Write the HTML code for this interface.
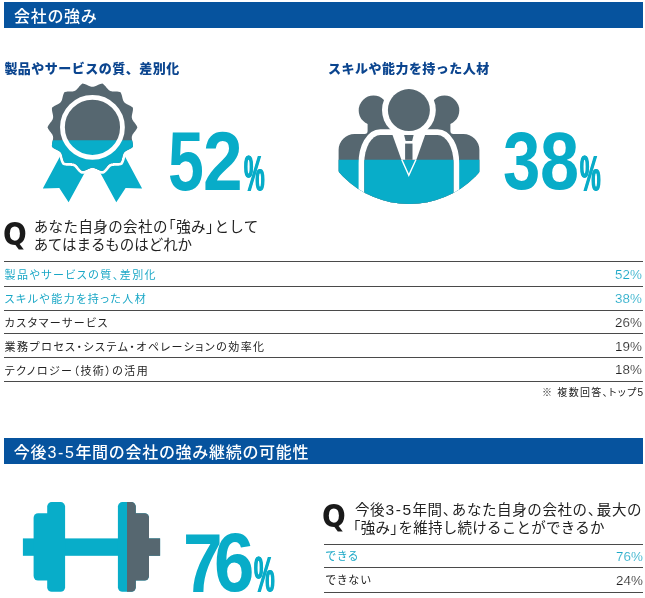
<!DOCTYPE html>
<html lang="ja">
<head>
<meta charset="utf-8">
<title>会社の強み</title>
<style>
html,body{margin:0;padding:0;background:#fff;}
body{width:645px;height:598px;position:relative;overflow:hidden;font-family:"Liberation Sans","Noto Sans CJK JP",sans-serif;color:#222;}
.abs{position:absolute;white-space:nowrap;}
.bar{position:absolute;left:4.2px;width:638.9px;background:#06539e;color:#fff;font-size:16px;line-height:26px;}
.bar span{position:absolute;left:9.8px;top:1.7px;white-space:nowrap;letter-spacing:0.7px;font-weight:500;}
.sub{position:absolute;white-space:nowrap;font-weight:900;font-size:13px;color:#0b458f;letter-spacing:0.48px;line-height:16px;}
.q{position:absolute;font-family:"DejaVu Sans Condensed","DejaVu Sans",sans-serif;font-weight:700;font-size:32px;line-height:32px;color:#1a1a1a;transform-origin:0 0;transform:scaleX(0.97);}
.qt{position:absolute;white-space:nowrap;font-size:14.5px;line-height:17.4px;color:#222;letter-spacing:0.4px;font-weight:400;}
.qt i{font-style:normal;}
.qt .l{margin-left:-6.5px;}
.qt .r{margin-right:-6.5px;}
.hr{position:absolute;height:1.2px;background:#4a4a4a;}
.row{position:absolute;left:4.6px;right:3.5px;height:24px;line-height:24px;font-size:11px;color:#222;font-feature-settings:"palt";letter-spacing:1.45px;font-weight:400;}
.row b{position:absolute;right:-0.4px;top:-0.4px;font-weight:400;font-size:13.4px;letter-spacing:0;-webkit-text-stroke:0.18px #fff;font-family:"Liberation Sans",sans-serif;}
.row.c{color:#1aa7c6;}
.n{position:absolute;white-space:nowrap;font-family:"Liberation Sans",sans-serif;font-weight:700;color:#08acc8;transform-origin:0 0;}
.p{text-shadow:0.8px 0 0 #08acc8,-0.8px 0 0 #08acc8;}
</style>
</head>
<body>
<div class="bar" style="top:2.3px;height:25.5px;"><span>会社の強み</span></div>
<div class="sub" style="left:4.4px;top:61px;">製品やサービスの質、差別化</div>
<div class="sub" style="left:328px;top:61px;">スキルや能力を持った人材</div>

<!--ICONS--><svg class="abs" style="left:0;top:0" width="645" height="598" viewBox="0 0 645 598">
<defs>
<clipPath id="cb"><rect x="0" y="140.3" width="200" height="80"/></clipPath>
<clipPath id="cp"><circle cx="409.2" cy="110.3" r="93.7"/></clipPath>
<clipPath id="cpl"><rect x="320" y="159.8" width="180" height="60"/></clipPath>
<clipPath id="cpu"><rect x="320" y="80" width="180" height="79.8"/></clipPath>
<clipPath id="cd"><rect x="127.1" y="495" width="60" height="103"/></clipPath>
<path id="bd" d="M92.45 86.80L92.75 86.79L93.06 86.77L93.36 86.73L93.67 86.68L93.97 86.61L94.28 86.52L94.59 86.43L94.91 86.32L95.22 86.20L95.54 86.07L95.86 85.93L96.19 85.79L96.51 85.64L96.85 85.48L97.18 85.32L97.52 85.16L97.86 85.00L98.20 84.84L98.55 84.68L98.90 84.53L99.25 84.39L99.60 84.25L99.95 84.12L100.31 84.00L100.66 83.89L101.02 83.79L101.38 83.70L101.73 83.63L102.09 83.57L102.44 83.53L102.74 83.72L103.03 83.93L103.32 84.15L103.61 84.38L103.89 84.62L104.16 84.88L104.43 85.14L104.69 85.41L104.95 85.69L105.20 85.97L105.45 86.26L105.69 86.55L105.93 86.84L106.17 87.14L106.40 87.43L106.63 87.71L106.87 88.00L107.10 88.28L107.32 88.55L107.55 88.81L107.79 89.07L108.02 89.31L108.25 89.55L108.49 89.77L108.73 89.98L108.98 90.17L109.23 90.35L109.49 90.52L109.75 90.67L110.02 90.81L110.30 90.94L110.58 91.05L110.87 91.14L111.17 91.23L111.48 91.30L111.79 91.36L112.11 91.40L112.44 91.44L112.78 91.47L113.12 91.49L113.47 91.51L113.83 91.52L114.19 91.53L114.56 91.53L114.93 91.53L115.30 91.53L115.68 91.54L116.05 91.54L116.43 91.55L116.81 91.57L117.19 91.59L117.57 91.61L117.95 91.65L118.32 91.70L118.69 91.75L119.05 91.82L119.41 91.89L119.76 91.98L120.11 92.08L120.44 92.20L120.63 92.50L120.81 92.81L120.97 93.14L121.13 93.47L121.27 93.81L121.41 94.16L121.53 94.51L121.65 94.87L121.76 95.23L121.87 95.60L121.97 95.96L122.06 96.33L122.15 96.70L122.24 97.06L122.32 97.43L122.41 97.79L122.49 98.15L122.58 98.50L122.67 98.84L122.76 99.18L122.86 99.51L122.96 99.83L123.07 100.14L123.19 100.44L123.32 100.74L123.45 101.02L123.60 101.29L123.76 101.55L123.93 101.81L124.11 102.05L124.31 102.28L124.52 102.50L124.74 102.72L124.97 102.92L125.22 103.12L125.47 103.31L125.74 103.49L126.02 103.67L126.31 103.84L126.61 104.01L126.92 104.18L127.24 104.34L127.56 104.50L127.89 104.66L128.22 104.82L128.56 104.99L128.89 105.15L129.23 105.32L129.57 105.50L129.91 105.67L130.24 105.86L130.57 106.05L130.89 106.24L131.21 106.45L131.51 106.65L131.81 106.87L132.10 107.10L132.38 107.33L132.65 107.57L132.90 107.82L132.94 108.17L132.96 108.53L132.97 108.90L132.96 109.26L132.95 109.63L132.92 110.00L132.88 110.38L132.83 110.75L132.77 111.12L132.71 111.50L132.64 111.87L132.56 112.24L132.49 112.61L132.41 112.98L132.32 113.35L132.24 113.71L132.16 114.07L132.09 114.42L132.02 114.77L131.96 115.11L131.90 115.45L131.86 115.79L131.82 116.12L131.80 116.44L131.78 116.76L131.79 117.07L131.80 117.38L131.83 117.69L131.87 117.99L131.93 118.29L132.01 118.58L132.10 118.87L132.21 119.16L132.33 119.45L132.46 119.73L132.61 120.01L132.77 120.29L132.95 120.57L133.14 120.86L133.33 121.14L133.54 121.42L133.75 121.71L133.97 121.99L134.20 122.28L134.43 122.57L134.66 122.86L134.89 123.16L135.12 123.46L135.35 123.76L135.58 124.07L135.80 124.38L136.01 124.69L136.22 125.01L136.42 125.33L136.60 125.65L136.78 125.97L136.94 126.30L137.09 126.63L137.23 126.97L137.35 127.30L137.23 127.63L137.09 127.97L136.94 128.30L136.78 128.63L136.60 128.95L136.42 129.27L136.22 129.59L136.01 129.91L135.80 130.22L135.58 130.53L135.35 130.84L135.12 131.14L134.89 131.44L134.66 131.74L134.43 132.03L134.20 132.32L133.97 132.61L133.75 132.89L133.54 133.18L133.33 133.46L133.14 133.74L132.95 134.03L132.77 134.31L132.61 134.59L132.46 134.87L132.33 135.15L132.21 135.44L132.10 135.73L132.01 136.02L131.93 136.31L131.87 136.61L131.83 136.91L131.80 137.22L131.79 137.53L131.78 137.84L131.80 138.16L131.82 138.48L131.86 138.81L131.90 139.15L131.96 139.49L132.02 139.83L132.09 140.18L132.16 140.53L132.24 140.89L132.32 141.25L132.41 141.62L132.49 141.99L132.56 142.36L132.64 142.73L132.71 143.10L132.77 143.48L132.83 143.85L132.88 144.22L132.92 144.60L132.95 144.97L132.96 145.34L132.97 145.70L132.96 146.07L132.94 146.43L132.90 146.78L132.65 147.03L132.38 147.27L132.10 147.50L131.81 147.73L131.51 147.95L131.21 148.15L130.89 148.36L130.57 148.55L130.24 148.74L129.91 148.92L129.57 149.10L129.23 149.28L128.89 149.45L128.56 149.61L128.22 149.78L127.89 149.94L127.56 150.10L127.24 150.26L126.92 150.42L126.61 150.59L126.31 150.76L126.02 150.93L125.74 151.11L125.47 151.29L125.22 151.48L124.97 151.68L124.74 151.88L124.52 152.10L124.31 152.32L124.11 152.55L123.93 152.79L123.76 153.05L123.60 153.31L123.45 153.58L123.32 153.86L123.19 154.16L123.07 154.46L122.96 154.77L122.86 155.09L122.76 155.42L122.67 155.76L122.58 156.10L122.49 156.45L122.41 156.81L122.32 157.17L122.24 157.54L122.15 157.90L122.06 158.27L121.97 158.64L121.87 159.00L121.76 159.37L121.65 159.73L121.53 160.09L121.41 160.44L121.27 160.79L121.13 161.13L120.97 161.46L120.81 161.79L120.63 162.10L120.44 162.40L120.11 162.52L119.76 162.62L119.41 162.71L119.05 162.78L118.69 162.85L118.32 162.90L117.95 162.95L117.57 162.99L117.19 163.01L116.81 163.03L116.43 163.05L116.05 163.06L115.68 163.06L115.30 163.07L114.93 163.07L114.56 163.07L114.19 163.07L113.83 163.08L113.47 163.09L113.12 163.11L112.78 163.13L112.44 163.16L112.11 163.20L111.79 163.24L111.48 163.30L111.17 163.37L110.87 163.46L110.58 163.55L110.30 163.66L110.02 163.79L109.75 163.93L109.49 164.08L109.23 164.25L108.98 164.43L108.73 164.62L108.49 164.83L108.25 165.05L108.02 165.29L107.79 165.53L107.55 165.79L107.32 166.05L107.10 166.32L106.87 166.60L106.63 166.89L106.40 167.17L106.17 167.46L105.93 167.76L105.69 168.05L105.45 168.34L105.20 168.63L104.95 168.91L104.69 169.19L104.43 169.46L104.16 169.72L103.89 169.98L103.61 170.22L103.32 170.45L103.03 170.67L102.74 170.88L102.44 171.07L102.09 171.03L101.73 170.97L101.38 170.90L101.02 170.81L100.66 170.71L100.31 170.60L99.95 170.48L99.60 170.35L99.25 170.21L98.90 170.07L98.55 169.92L98.20 169.76L97.86 169.60L97.52 169.44L97.18 169.28L96.85 169.12L96.51 168.96L96.19 168.81L95.86 168.67L95.54 168.53L95.22 168.40L94.91 168.28L94.59 168.17L94.28 168.08L93.97 167.99L93.67 167.92L93.36 167.87L93.06 167.83L92.75 167.81L92.45 167.80L92.15 167.81L91.84 167.83L91.54 167.87L91.23 167.92L90.93 167.99L90.62 168.08L90.31 168.17L89.99 168.28L89.68 168.40L89.36 168.53L89.04 168.67L88.71 168.81L88.39 168.96L88.05 169.12L87.72 169.28L87.38 169.44L87.04 169.60L86.70 169.76L86.35 169.92L86.00 170.07L85.65 170.21L85.30 170.35L84.95 170.48L84.59 170.60L84.24 170.71L83.88 170.81L83.52 170.90L83.17 170.97L82.81 171.03L82.46 171.07L82.16 170.88L81.87 170.67L81.58 170.45L81.29 170.22L81.01 169.98L80.74 169.72L80.47 169.46L80.21 169.19L79.95 168.91L79.70 168.63L79.45 168.34L79.21 168.05L78.97 167.76L78.73 167.46L78.50 167.17L78.27 166.89L78.03 166.60L77.80 166.32L77.58 166.05L77.35 165.79L77.11 165.53L76.88 165.29L76.65 165.05L76.41 164.83L76.17 164.62L75.92 164.43L75.67 164.25L75.41 164.08L75.15 163.93L74.88 163.79L74.60 163.66L74.32 163.55L74.03 163.46L73.73 163.37L73.42 163.30L73.11 163.24L72.79 163.20L72.46 163.16L72.12 163.13L71.78 163.11L71.43 163.09L71.07 163.08L70.71 163.07L70.34 163.07L69.97 163.07L69.60 163.07L69.22 163.06L68.85 163.06L68.47 163.05L68.09 163.03L67.71 163.01L67.33 162.99L66.95 162.95L66.58 162.90L66.21 162.85L65.85 162.78L65.49 162.71L65.14 162.62L64.79 162.52L64.46 162.40L64.27 162.10L64.09 161.79L63.93 161.46L63.77 161.13L63.63 160.79L63.49 160.44L63.37 160.09L63.25 159.73L63.14 159.37L63.03 159.00L62.93 158.64L62.84 158.27L62.75 157.90L62.66 157.54L62.58 157.17L62.49 156.81L62.41 156.45L62.32 156.10L62.23 155.76L62.14 155.42L62.04 155.09L61.94 154.77L61.83 154.46L61.71 154.16L61.58 153.86L61.45 153.58L61.30 153.31L61.14 153.05L60.97 152.79L60.79 152.55L60.59 152.32L60.38 152.10L60.16 151.88L59.93 151.68L59.68 151.48L59.43 151.29L59.16 151.11L58.88 150.93L58.59 150.76L58.29 150.59L57.98 150.42L57.66 150.26L57.34 150.10L57.01 149.94L56.68 149.78L56.34 149.61L56.01 149.45L55.67 149.28L55.33 149.10L54.99 148.93L54.66 148.74L54.33 148.55L54.01 148.36L53.69 148.15L53.39 147.95L53.09 147.73L52.80 147.50L52.52 147.27L52.25 147.03L52.00 146.78L51.96 146.43L51.94 146.07L51.93 145.70L51.94 145.34L51.95 144.97L51.98 144.60L52.02 144.22L52.07 143.85L52.13 143.48L52.19 143.10L52.26 142.73L52.34 142.36L52.41 141.99L52.49 141.62L52.58 141.25L52.66 140.89L52.74 140.53L52.81 140.18L52.88 139.83L52.94 139.49L53.00 139.15L53.04 138.81L53.08 138.48L53.10 138.16L53.12 137.84L53.11 137.53L53.10 137.22L53.07 136.91L53.03 136.61L52.97 136.31L52.89 136.02L52.80 135.73L52.69 135.44L52.57 135.15L52.44 134.87L52.29 134.59L52.13 134.31L51.95 134.03L51.76 133.74L51.57 133.46L51.36 133.18L51.15 132.89L50.93 132.61L50.70 132.32L50.47 132.03L50.24 131.74L50.01 131.44L49.78 131.14L49.55 130.84L49.32 130.53L49.10 130.22L48.89 129.91L48.68 129.59L48.48 129.27L48.30 128.95L48.12 128.63L47.96 128.30L47.81 127.97L47.67 127.63L47.55 127.30L47.67 126.97L47.81 126.63L47.96 126.30L48.12 125.97L48.30 125.65L48.48 125.33L48.68 125.01L48.89 124.69L49.10 124.38L49.32 124.07L49.55 123.76L49.78 123.46L50.01 123.16L50.24 122.86L50.47 122.57L50.70 122.28L50.93 121.99L51.15 121.71L51.36 121.42L51.57 121.14L51.76 120.86L51.95 120.57L52.13 120.29L52.29 120.01L52.44 119.73L52.57 119.45L52.69 119.16L52.80 118.87L52.89 118.58L52.97 118.29L53.03 117.99L53.07 117.69L53.10 117.38L53.11 117.07L53.12 116.76L53.10 116.44L53.08 116.12L53.04 115.79L53.00 115.45L52.94 115.11L52.88 114.77L52.81 114.42L52.74 114.07L52.66 113.71L52.58 113.35L52.49 112.98L52.41 112.61L52.34 112.24L52.26 111.87L52.19 111.50L52.13 111.12L52.07 110.75L52.02 110.38L51.98 110.00L51.95 109.63L51.94 109.26L51.93 108.90L51.94 108.53L51.96 108.17L52.00 107.82L52.25 107.57L52.52 107.33L52.80 107.10L53.09 106.87L53.39 106.65L53.69 106.45L54.01 106.24L54.33 106.05L54.66 105.86L54.99 105.68L55.33 105.50L55.67 105.32L56.01 105.15L56.34 104.99L56.68 104.82L57.01 104.66L57.34 104.50L57.66 104.34L57.98 104.18L58.29 104.01L58.59 103.84L58.88 103.67L59.16 103.49L59.43 103.31L59.68 103.12L59.93 102.92L60.16 102.72L60.38 102.50L60.59 102.28L60.79 102.05L60.97 101.81L61.14 101.55L61.30 101.29L61.45 101.02L61.58 100.74L61.71 100.44L61.83 100.14L61.94 99.83L62.04 99.51L62.14 99.18L62.23 98.84L62.32 98.50L62.41 98.15L62.49 97.79L62.58 97.43L62.66 97.06L62.75 96.70L62.84 96.33L62.93 95.96L63.03 95.60L63.14 95.23L63.25 94.87L63.37 94.51L63.49 94.16L63.63 93.81L63.77 93.47L63.93 93.14L64.09 92.81L64.27 92.50L64.46 92.20L64.79 92.08L65.14 91.98L65.49 91.89L65.85 91.82L66.21 91.75L66.58 91.70L66.95 91.65L67.33 91.61L67.71 91.59L68.09 91.57L68.47 91.55L68.85 91.54L69.22 91.54L69.60 91.53L69.97 91.53L70.34 91.53L70.71 91.53L71.07 91.52L71.43 91.51L71.78 91.49L72.12 91.47L72.46 91.44L72.79 91.40L73.11 91.36L73.42 91.30L73.73 91.23L74.03 91.14L74.32 91.05L74.60 90.94L74.88 90.81L75.15 90.67L75.41 90.52L75.67 90.35L75.92 90.17L76.17 89.98L76.41 89.77L76.65 89.55L76.88 89.31L77.11 89.07L77.35 88.81L77.58 88.55L77.80 88.28L78.03 88.00L78.27 87.71L78.50 87.43L78.73 87.14L78.97 86.84L79.21 86.55L79.45 86.26L79.70 85.97L79.95 85.69L80.21 85.41L80.47 85.14L80.74 84.88L81.01 84.62L81.29 84.38L81.58 84.15L81.87 83.93L82.16 83.72L82.46 83.53L82.81 83.57L83.17 83.63L83.52 83.70L83.88 83.79L84.24 83.89L84.59 84.00L84.95 84.12L85.30 84.25L85.65 84.39L86.00 84.53L86.35 84.68L86.70 84.84L87.04 85.00L87.38 85.16L87.72 85.32L88.05 85.48L88.39 85.64L88.71 85.79L89.04 85.93L89.36 86.07L89.68 86.20L89.99 86.32L90.31 86.43L90.62 86.52L90.93 86.61L91.23 86.68L91.54 86.73L91.84 86.77L92.15 86.79Z"/>
<g id="side">
<circle cx="373.5" cy="110.4" r="14.8"/>
<circle cx="444.5" cy="110.4" r="14.8"/>
<path d="M338.6 210V150a16 16 0 0 1 16 -16H364.6a3 3 0 0 0 3 -3V118H450.4V131a3 3 0 0 0 3 3H463.4a16 16 0 0 1 16 16V210Z"/>
</g>
<path id="cbody" d="M364.3 210V163a16 28 0 0 1 16 -28H437.5a16 28 0 0 1 16 28V210Z"/>
<g id="dumb">
<rect x="22.9" y="538.4" width="137.2" height="17.4"/>
<rect x="47.2" y="502.1" width="17.9" height="89.6" rx="4.5"/>
<path d="M50 513.3H38.1a4.5 4.5 0 0 0 -4.5 4.5V576.1a4.5 4.5 0 0 0 4.5 4.5H50Z"/>
<rect x="117.9" y="502.1" width="17.9" height="89.6" rx="4.5"/>
<path d="M133 513.3H144.5a4.5 4.5 0 0 1 4.5 4.5V576.1a4.5 4.5 0 0 1 -4.5 4.5H133Z"/>
</g>
</defs>
<!-- badge -->
<g fill="#08adc9">
<path d="M68.8 140L42.8 188.6L59.3 187.9L68.6 202.2L102.5 140Z"/>
<path d="M116.1 140L142.1 188.6L125.6 187.9L116.3 202.2L82.4 140Z"/>
</g>
<use href="#bd" fill="#566770" stroke="#fff" stroke-width="5.6" stroke-linejoin="round"/>
<use href="#bd" fill="#566770"/>
<use href="#bd" fill="#08adc9" clip-path="url(#cb)"/>
<circle cx="92.45" cy="127.3" r="30" fill="none" stroke="#fff" stroke-width="4.8"/>
<!-- people -->
<g clip-path="url(#cp)">
<use href="#side" fill="#566770"/>
<use href="#side" fill="#08adc9" clip-path="url(#cpl)"/>
<circle cx="408.9" cy="110.1" r="26.9" fill="#fff"/>
<use href="#cbody" fill="#fff" stroke="#fff" stroke-width="11.4"/>
<circle cx="408.9" cy="110.1" r="21" fill="#566770"/>
<use href="#cbody" fill="#566770"/>
<use href="#cbody" fill="#08adc9" clip-path="url(#cpl)"/>
<path d="M391.8 133L401.4 159.8H416.4L425.8 133Z" fill="#fff"/>
<path d="M404.1 135H413.6L412.1 141H405.6Z" fill="#566770"/>
<rect x="405.1" y="143.6" width="7.4" height="16.2" fill="#566770"/>
<path d="M401.8 159.8L408.8 175.2L415.9 159.8" fill="none" stroke="#fff" stroke-width="1.4"/>
</g>
<!-- dumbbell -->
<use href="#dumb" fill="#08adc9"/>
<use href="#dumb" fill="#566770" clip-path="url(#cd)"/>
</svg><!--/ICONS-->

<!--NUMS--><div class="n" style="left:167.60px;top:120.14px;font-size:83.0px;line-height:83.0px;transform:scaleX(0.776);">5</div>
<div class="n" style="left:203.21px;top:120.14px;font-size:83.0px;line-height:83.0px;transform:scaleX(0.857);">2</div>
<div class="n p" style="left:243.60px;top:148.58px;font-size:49.4px;line-height:49.4px;transform:scaleX(0.470);">%</div>
<div class="n" style="left:502.56px;top:120.24px;font-size:82.0px;line-height:82.0px;transform:scaleX(0.817);">3</div>
<div class="n" style="left:540.35px;top:120.24px;font-size:82.0px;line-height:82.0px;transform:scaleX(0.856);">8</div>
<div class="n p" style="left:580.20px;top:148.58px;font-size:49.4px;line-height:49.4px;transform:scaleX(0.470);">%</div>
<div class="n" style="left:182.74px;top:520.79px;font-size:84.0px;line-height:84.0px;transform:scaleX(0.848);">7</div>
<div class="n" style="left:213.82px;top:521.27px;font-size:83.2px;line-height:83.2px;transform:scaleX(0.871);">6</div>
<div class="n p" style="left:254.20px;top:549.58px;font-size:49.4px;line-height:49.4px;transform:scaleX(0.470);">%</div><!--/NUMS-->
<div class="q" style="left:3px;top:218px;">Q</div>
<div class="qt" style="left:33.7px;top:219.4px;">あなた自身の会社の<i class="l">「</i>強み<i class="r">」</i>として<br><span style="letter-spacing:-0.05px">あてはまるものはどれか</span></div>

<div class="hr" style="left:4px;right:2px;top:261.1px;"></div>
<div class="row c" style="top:263.2px;">製品やサービスの質、差別化<b>52%</b></div>
<div class="hr" style="left:4px;right:2px;top:285.6px;"></div>
<div class="row c" style="top:287.2px;">スキルや能力を持った人材<b>38%</b></div>
<div class="hr" style="left:4px;right:2px;top:309.7px;"></div>
<div class="row" style="top:311.2px;">カスタマーサービス<b>26%</b></div>
<div class="hr" style="left:4px;right:2px;top:333.15px;"></div>
<div class="row" style="top:335px;">業務プロセス・システム・オペレーションの効率化<b>19%</b></div>
<div class="hr" style="left:4px;right:2px;top:357px;"></div>
<div class="row" style="top:358.8px;">テクノロジー（技術）の活用<b>18%</b></div>
<div class="hr" style="left:4px;right:2px;top:380.6px;"></div>
<div class="abs" style="right:0.6px;top:385.6px;font-size:10px;line-height:14px;color:#222;font-feature-settings:'palt';letter-spacing:1.3px;">※ 複数回答、トップ5</div>

<div class="bar" style="top:438.2px;height:25.6px;line-height:25px;"><span style="left:9.6px;top:1.6px;">今後<i style="font-style:normal;letter-spacing:1.6px;margin-left:0.3px;">3-5</i>年間の会社の強み継続の可能性</span></div>


<div class="q" style="left:322.3px;top:500.3px;">Q</div>
<div class="qt" style="left:355px;top:502.4px;letter-spacing:0.25px;"><span style="letter-spacing:0.6px">今後<i style="letter-spacing:1.5px;margin-left:0.4px;font-size:15.5px;line-height:10px">3-5</i>年間<i style="margin-right:-6px">、</i>あなた自身の会社の<i style="margin-right:-6px">、</i>最大の</span><br><i class="l" style="margin-left:-9px">「</i>強み<i class="r">」</i>を維持し続けることができるか</div>
<div class="hr" style="left:324px;right:2px;top:543.6px;"></div>
<div class="row c" style="left:325.6px;top:544.4px;">できる<b style="top:0.6px;right:-1.3px;">76%</b></div>
<div class="hr" style="left:324px;right:2px;top:566.9px;"></div>
<div class="row" style="left:325.6px;top:568.2px;">できない<b style="top:0.6px;right:-1.3px;">24%</b></div>
<div class="hr" style="left:324px;right:2px;top:591.7px;"></div>
</body>
</html>
